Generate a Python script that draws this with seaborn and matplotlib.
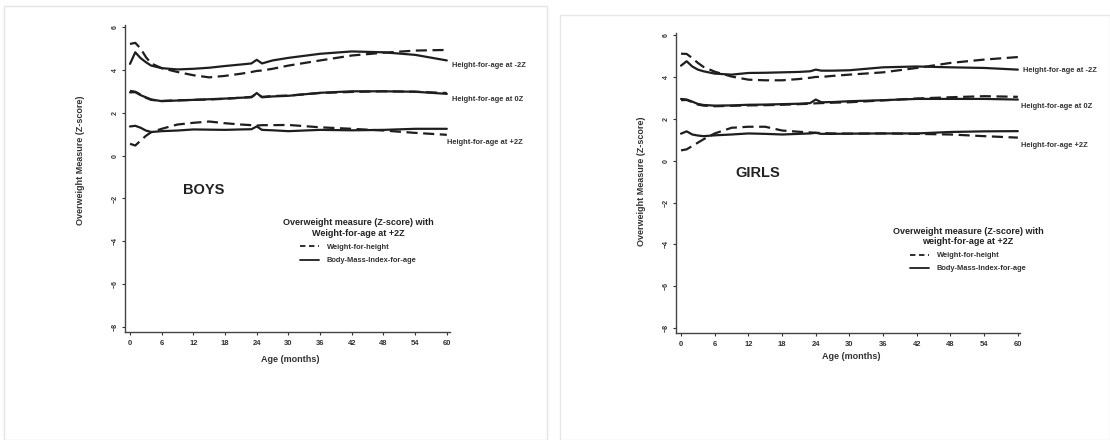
import numpy as np
import pandas as pd
import seaborn as sns
import matplotlib.pyplot as plt
from matplotlib.lines import Line2D
from matplotlib.patches import Rectangle

# ages (months) shared by all curves
ages = [0, 1, 2, 3, 4, 6, 9, 12, 15, 18, 21, 23, 24, 25, 27, 30, 36, 42, 48, 54, 60]

# BOYS
boys_wfh_m2 = [5.21, 5.26, 5.0, 4.6, 4.3, 4.08, 3.9, 3.75, 3.65, 3.72, 3.82, 3.9, 3.95, 3.97, 4.05, 4.2, 4.44, 4.67, 4.8, 4.9, 4.93]
boys_bmi_m2 = [4.28, 4.82, 4.55, 4.36, 4.2, 4.08, 4.02, 4.05, 4.1, 4.18, 4.25, 4.3, 4.47, 4.3, 4.44, 4.56, 4.75, 4.86, 4.82, 4.7, 4.44]
boys_wfh_0 = [3.02, 2.98, 2.85, 2.7, 2.6, 2.55, 2.58, 2.6, 2.62, 2.65, 2.7, 2.74, 2.88, 2.74, 2.78, 2.8, 2.92, 2.97, 3.0, 2.98, 2.92]
boys_bmi_0 = [2.95, 2.96, 2.82, 2.72, 2.62, 2.54, 2.57, 2.6, 2.63, 2.66, 2.7, 2.72, 2.92, 2.72, 2.76, 2.79, 2.93, 3.0, 3.0, 2.98, 2.88]
boys_wfh_p2 = [0.55, 0.47, 0.7, 0.92, 1.09, 1.25, 1.45, 1.53, 1.59, 1.51, 1.45, 1.42, 1.4, 1.42, 1.42, 1.43, 1.32, 1.25, 1.17, 1.06, 0.97]
boys_bmi_p2 = [1.36, 1.39, 1.3, 1.17, 1.1, 1.14, 1.17, 1.22, 1.21, 1.2, 1.22, 1.23, 1.36, 1.2, 1.18, 1.14, 1.2, 1.18, 1.2, 1.25, 1.25]

# GIRLS
girls_wfh_m2 = [5.11, 5.1, 4.9, 4.67, 4.48, 4.25, 4.02, 3.87, 3.84, 3.84, 3.9, 3.96, 4.0, 4.0, 4.05, 4.11, 4.22, 4.43, 4.67, 4.83, 4.95]
girls_bmi_m2 = [4.54, 4.75, 4.5, 4.35, 4.27, 4.16, 4.11, 4.19, 4.2, 4.22, 4.24, 4.27, 4.35, 4.3, 4.3, 4.32, 4.46, 4.5, 4.46, 4.43, 4.35]
girls_wfh_0 = [2.89, 2.9, 2.8, 2.68, 2.63, 2.6, 2.62, 2.64, 2.65, 2.67, 2.7, 2.72, 2.74, 2.75, 2.77, 2.79, 2.88, 2.97, 3.03, 3.08, 3.05]
girls_bmi_0 = [2.95, 2.92, 2.82, 2.71, 2.66, 2.63, 2.64, 2.67, 2.68, 2.7, 2.72, 2.75, 2.92, 2.79, 2.8, 2.84, 2.89, 2.95, 2.95, 2.95, 2.92]
girls_wfh_p2 = [0.49, 0.54, 0.7, 0.86, 1.02, 1.3, 1.57, 1.62, 1.62, 1.44, 1.38, 1.35, 1.33, 1.32, 1.3, 1.29, 1.3, 1.28, 1.25, 1.17, 1.1]
girls_bmi_p2 = [1.29, 1.4, 1.25, 1.2, 1.17, 1.21, 1.25, 1.3, 1.28, 1.25, 1.28, 1.3, 1.33, 1.28, 1.28, 1.29, 1.3, 1.3, 1.37, 1.4, 1.41]

measures = ['Weight-for-height', 'Body-Mass-Index-for-age']
refs = ['-2Z', '0Z', '+2Z']
boys_labels = ['Height-for-age at -2Z', 'Height-for-age at 0Z', 'Height-for-age at +2Z']
girls_labels = ['Height-for-age at -2Z', 'Height-for-age at 0Z', 'Height-for-age +2Z']
xticks = [0, 6, 12, 18, 24, 30, 36, 42, 48, 54, 60]
yticks = [6, 4, 2, 0, -2, -4, -6, -8]


def make_df(series):
    rows = []
    for (ref, meas), vals in series.items():
        for a, v in zip(ages, vals):
            rows.append({'age': a, 'z': v, 'ref': ref, 'measure': meas})
    return pd.DataFrame(rows)


boys = make_df({
    ('-2Z', measures[0]): boys_wfh_m2, ('-2Z', measures[1]): boys_bmi_m2,
    ('0Z', measures[0]): boys_wfh_0, ('0Z', measures[1]): boys_bmi_0,
    ('+2Z', measures[0]): boys_wfh_p2, ('+2Z', measures[1]): boys_bmi_p2,
})
girls = make_df({
    ('-2Z', measures[0]): girls_wfh_m2, ('-2Z', measures[1]): girls_bmi_m2,
    ('0Z', measures[0]): girls_wfh_0, ('0Z', measures[1]): girls_bmi_0,
    ('+2Z', measures[0]): girls_wfh_p2, ('+2Z', measures[1]): girls_bmi_p2,
})

sns.set_style('ticks')
plt.rcParams['font.family'] = ['Liberation Sans', 'DejaVu Sans']
ink = '#1e1e1e'
dash = (5, 2.5)

fig = plt.figure(figsize=(11.1, 4.4), dpi=100)
# faint frames of the two source images
fig.patches.append(Rectangle((4 / 1110, 0), 543 / 1110, 434 / 440, transform=fig.transFigure,
                             fill=False, edgecolor='#e4e4e4', lw=1))
fig.patches.append(Rectangle((560 / 1110, 0), 550 / 1110, 425 / 440, transform=fig.transFigure,
                             fill=False, edgecolor='#e8e8e8', lw=1))

panels = [
    dict(df=boys, pos=[0.1126, 0.2455, 0.2928, 0.698], xlim=(-0.95, 60.6), ylim=(-8.23, 6.1),
         name='BOYS', name_xy=(14, -1.6), labels=boys_labels, label_y=[4.22, 2.62, 0.62], label_x=[61.0, 61.0, 60.0],
         ylab=(-0.123, 0.56), xlab=(0.51, -0.075), leg=(0.717, 0.38),
         title='Overweight measure (Z-score) with\nWeight-for-age at +2Z'),
    dict(df=girls, pos=[0.609, 0.243, 0.31, 0.682], xlim=(-0.9, 60.4), ylim=(-8.24, 6.1),
         name='GIRLS', name_xy=(13.7, -0.6), labels=girls_labels, label_y=[4.3, 2.6, 0.72], label_x=[61.0, 60.6, 60.6],
         ylab=(-0.087, 0.507), xlab=(0.509, -0.062), leg=(0.849, 0.365),
         title='Overweight measure (Z-score) with\nweight-for-age at +2Z'),
]

for p in panels:
    ax = fig.add_axes(p['pos'])
    sns.lineplot(data=p['df'], x='age', y='z', style='measure', units='ref', estimator=None,
                 dashes={measures[0]: dash, measures[1]: ''}, color=ink, lw=1.6,
                 legend=False, ax=ax)
    ax.set_xlim(*p['xlim'])
    ax.set_ylim(*p['ylim'])
    ax.set_xticks(xticks)
    ax.set_yticks(yticks)
    ax.tick_params(axis='x', labelsize=5.5, length=2.5, width=0.8, pad=3, colors='#333333')
    ax.tick_params(axis='y', labelsize=5, length=2.5, width=0.8, pad=2, colors='#333333', labelrotation=90)
    for lab in ax.get_xticklabels() + ax.get_yticklabels():
        lab.set_fontweight('bold')
    for lab in ax.get_yticklabels():
        lab.set_va('center')
    sns.despine(ax=ax)
    for s in ['left', 'bottom']:
        ax.spines[s].set_color('#444444')
        ax.spines[s].set_linewidth(1.0)

    ax.set_ylabel('Overweight Measure (Z-score)', fontsize=6.5, fontweight='bold', color='#333333')
    ax.set_xlabel('Age (months)', fontsize=6.5, fontweight='bold', color='#333333')
    ax.yaxis.set_label_coords(*p['ylab'])
    ax.xaxis.set_label_coords(*p['xlab'])

    ax.text(p['name_xy'][0], p['name_xy'][1], p['name'], fontsize=10.5, fontweight='bold',
            ha='center', va='center', color='#222222')
    for lx, ly, lt in zip(p['label_x'], p['label_y'], p['labels']):
        ax.text(lx, ly, lt, fontsize=5.4, fontweight='bold', color='#333333',
                ha='left', va='center', clip_on=False)

    handles = [Line2D([], [], color=ink, lw=1.3, dashes=(3, 2)),
               Line2D([], [], color=ink, lw=1.3)]
    leg = ax.legend(handles, measures, title=p['title'], loc='upper center',
                    bbox_to_anchor=p['leg'], frameon=False, handlelength=2.6,
                    handletextpad=1.0, labelspacing=0.8, borderaxespad=0,
                    title_fontproperties={'weight': 'bold', 'size': 6.5},
                    prop={'weight': 'bold', 'size': 5.4}, labelcolor='#333333')
    leg.get_title().set_multialignment('center')
    leg.get_title().set_color('#222222')

fig.savefig('out.png', dpi=100, facecolor='white')
